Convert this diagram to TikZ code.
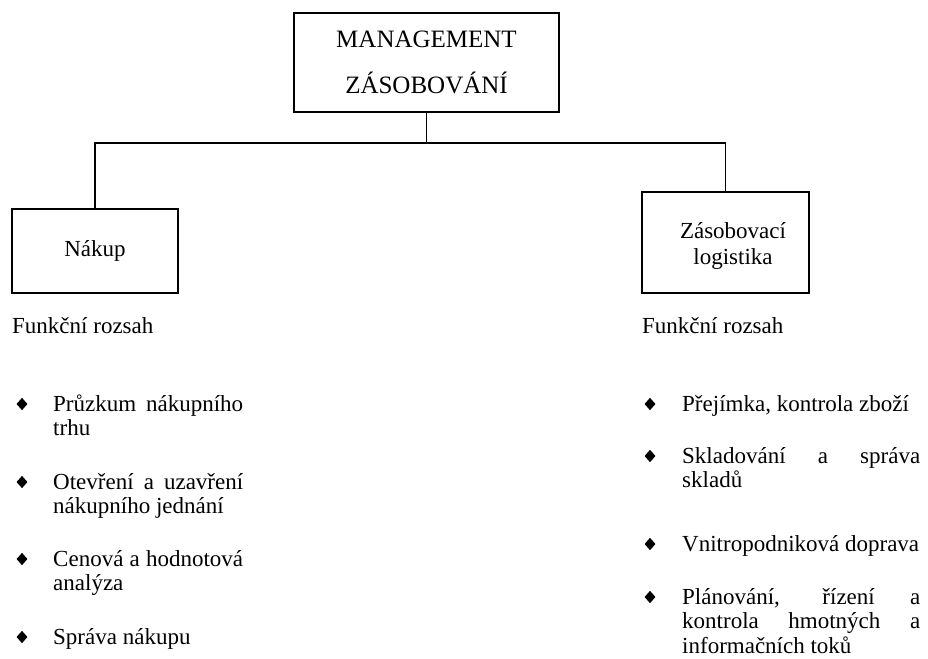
\documentclass[tikz,border=0pt]{standalone}
\usepackage{fontspec}
\setmainfont{Liberation Serif}
\usetikzlibrary{shapes.geometric}

\begin{document}
\begin{tikzpicture}[x=1pt, y=-1pt,
  box/.style={draw, line width=1.5pt, inner sep=0pt, align=center},
  link/.style={line width=1.5pt},
  body/.style={font=\fontsize{23}{24.5}\selectfont, inner sep=0pt},
  item/.style={body, anchor=base west, align=justify},
  bullet/.style={diamond, fill=black, draw=none, inner sep=0pt,
    minimum width=11pt, minimum height=12.5pt}]

  \useasboundingbox (0,0) rectangle (928,658);

  % boxes
  \node[box, minimum width=265pt, minimum height=99pt,
        font=\fontsize{25}{46}\selectfont] (top) at (426.5,62.5)
        {MANAGEMENT\\ZÁSOBOVÁNÍ};
  \node[box, minimum width=166pt, minimum height=84pt,
        font=\fontsize{23}{26}\selectfont] (nakup) at (95,251) {Nákup};
  \node[box, minimum width=167pt, minimum height=101pt] (zl) at (725.5,242.5) {};
  \node[body, align=center, font=\fontsize{23}{26}\selectfont] (zltext)
        at (733,246) {Zásobovací\\logistika};

  % tree connectors
  \coordinate (hub) at (426.5,143);
  \draw[link] (top.south) -- (hub);
  \draw[link] (hub) -| (nakup.north);
  \draw[link] (hub) -| (zl.north);

  % headings
  \node[body, anchor=base west] (fl) at (12,333) {Funkční rozsah};
  \node[body, anchor=base west] (fr) at (642,333) {Funkční rozsah};

  % left list
  \node[bullet] (bl1) at (22,404) {};
  \node[item, text width=190pt] (l1) at (53,411)
    {Průzkum nákupního\linebreak trhu};
  \node[bullet] (bl2) at (22,482) {};
  \node[item, text width=190pt] (l2) at (53,489)
    {Otevření a uzavření\linebreak nákupního jednání};
  \node[bullet] (bl3) at (22,559) {};
  \node[item, text width=190pt] (l3) at (53,566)
    {Cenová a hodnotová\linebreak analýza};
  \node[bullet] (bl4) at (22,637) {};
  \node[item, text width=190pt] (l4) at (53,644)
    {Správa nákupu};

  % right list
  \node[bullet] (br1) at (650,404) {};
  \node[item, text width=238pt] (r1) at (682,411)
    {Přejímka, kontrola zboží};
  \node[bullet] (br2) at (650,456) {};
  \node[item, text width=238pt] (r2) at (682,463)
    {Skladování a správa\linebreak skladů};
  \node[bullet] (br3) at (650,544) {};
  \node[item, text width=238pt] (r3) at (682,551)
    {Vnitropodniková doprava};
  \node[bullet] (br4) at (650,597) {};
  \node[item, text width=238pt] (r4) at (682,604)
    {Plánování, řízení a\linebreak kontrola hmotných a\linebreak informačních toků};
\end{tikzpicture}
\end{document}
